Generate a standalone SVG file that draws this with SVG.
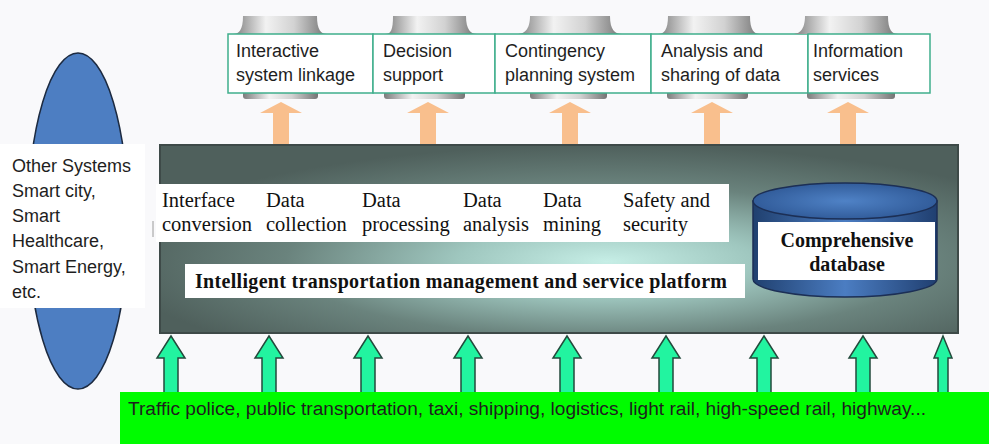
<svg xmlns="http://www.w3.org/2000/svg" width="989" height="444" viewBox="0 0 989 444">
  <defs>
    <linearGradient id="spool" x1="0" y1="0" x2="1" y2="0">
      <stop offset="0" stop-color="#7c7c7c"/>
      <stop offset="0.35" stop-color="#f2f2f2"/>
      <stop offset="0.65" stop-color="#d2d2d2"/>
      <stop offset="1" stop-color="#747474"/>
    </linearGradient>
    <radialGradient id="platform" cx="0.56" cy="0.62" r="0.62">
      <stop offset="0" stop-color="#c6eee6"/>
      <stop offset="0.3" stop-color="#9fc7bf"/>
      <stop offset="0.65" stop-color="#6a837d"/>
      <stop offset="1" stop-color="#4f605c"/>
    </radialGradient>
    <linearGradient id="drum" x1="0" y1="0" x2="1" y2="0">
      <stop offset="0" stop-color="#20406f"/>
      <stop offset="0.5" stop-color="#4b7dc2"/>
      <stop offset="1" stop-color="#203f70"/>
    </linearGradient>
    <radialGradient id="drumTop" cx="0.5" cy="0.5" r="0.6">
      <stop offset="0" stop-color="#4f82c6"/>
      <stop offset="1" stop-color="#2c5592"/>
    </radialGradient>
    <style>
      .box { fill: #ffffff; stroke: #3fae8c; stroke-width: 1.5; }
      .spool { fill: url(#spool); }
      .label { font-family: "Liberation Sans", Arial, sans-serif; font-size: 18px; fill: #1e1e1e; }
      .serif { font-family: "Liberation Serif", "Times New Roman", serif; font-size: 20.5px; fill: #111111; }
      .bold { font-family: "Liberation Serif", "Times New Roman", serif; font-size: 20px; font-weight: bold; fill: #111111; }
      .up-out { fill: #f9bf8d; }
      .up-in { fill: #22f4a0; stroke: #234a3c; stroke-width: 1.5; stroke-linejoin: miter; }
    </style>
  </defs>

  <rect x="0" y="0" width="989" height="444" fill="#f9f9fb"/>

  <!-- other systems -->
  <g id="other-systems">
    <ellipse cx="78" cy="221" rx="50" ry="168" fill="#4d7ec2" stroke="#1c2a40" stroke-width="1.5"/>
    <rect x="0" y="144" width="145" height="164" fill="#ffffff"/>
    <text class="label">
      <tspan x="12" y="172">Other Systems</tspan>
      <tspan x="12" y="197">Smart city,</tspan>
      <tspan x="12" y="222">Smart</tspan>
      <tspan x="12" y="247">Healthcare,</tspan>
      <tspan x="12" y="273">Smart Energy,</tspan>
      <tspan x="12" y="298">etc.</tspan>
    </text>
  </g>

  <!-- service outputs -->
  <g id="svc-linkage">
    <path class="spool" d="M243,16 L317,16 C317,30 321,34 327,34 L233,34 C239,34 243,30 243,16 Z"/>
    <path class="spool" d="M243,92 L318,92 L318,96 Q318,99 315,99 L246,99 Q243,99 243,96 Z"/>
    <rect class="box" x="228" y="34" width="145" height="59"/>
    <text class="label"><tspan x="236" y="57">Interactive</tspan><tspan x="236" y="81">system linkage</tspan></text>
  </g>
  <g id="svc-decision">
    <path class="spool" d="M393,16 L466,16 C466,30 471,34 477,34 L385,34 C391,34 393,30 393,16 Z"/>
    <path class="spool" d="M384,92 L465,92 L465,96 Q465,99 462,99 L387,99 Q384,99 384,96 Z"/>
    <rect class="box" x="373" y="34" width="122" height="59"/>
    <text class="label"><tspan x="383" y="57">Decision</tspan><tspan x="383" y="81">support</tspan></text>
  </g>
  <g id="svc-contingency">
    <path class="spool" d="M530,16 L610,16 C610,30 615,34 622,34 L517,34 C524,34 530,30 530,16 Z"/>
    <path class="spool" d="M530,92 L607,92 L607,96 Q607,99 604,99 L533,99 Q530,99 530,96 Z"/>
    <rect class="box" x="495" y="34" width="156" height="59"/>
    <text class="label"><tspan x="505" y="57">Contingency</tspan><tspan x="505" y="81">planning system</tspan></text>
  </g>
  <g id="svc-analysis">
    <path class="spool" d="M668,16 L750,16 C750,30 754,34 760,34 L658,34 C664,34 668,30 668,16 Z"/>
    <path class="spool" d="M667,92 L748,92 L748,96 Q748,99 745,99 L670,99 Q667,99 667,96 Z"/>
    <rect class="box" x="651" y="34" width="157" height="59"/>
    <text class="label"><tspan x="661" y="57">Analysis and</tspan><tspan x="661" y="81">sharing of data</tspan></text>
  </g>
  <g id="svc-information">
    <path class="spool" d="M805,16 L888,16 C888,30 892,34 898,34 L793,34 C799,34 805,30 805,16 Z"/>
    <path class="spool" d="M807,92 L895,92 L895,96 Q895,99 892,99 L810,99 Q807,99 807,96 Z"/>
    <rect class="box" x="808" y="34" width="122" height="59"/>
    <text class="label"><tspan x="813" y="57">Information</tspan><tspan x="813" y="81">services</tspan></text>
  </g>

  <!-- connectors -->
  <g id="connectors">
    <path class="up-out" d="M281,102 L302,113 L289,113 L289,146 L273,146 L273,113 L260,113 Z"/>
    <path class="up-out" d="M428,102 L449,113 L436,113 L436,146 L420,146 L420,113 L407,113 Z"/>
    <path class="up-out" d="M570,102 L591,113 L578,113 L578,146 L562,146 L562,113 L549,113 Z"/>
    <path class="up-out" d="M712,102 L733,113 L720,113 L720,146 L704,146 L704,113 L691,113 Z"/>
    <path class="up-out" d="M848,102 L869,113 L856,113 L856,146 L840,146 L840,113 L827,113 Z"/>

    <path class="up-in" d="M171,336 L185,358 L178,358 L178,394 L164,394 L164,358 L157,358 Z"/>
    <path class="up-in" d="M269,336 L283,358 L276,358 L276,394 L262,394 L262,358 L255,358 Z"/>
    <path class="up-in" d="M368,336 L382,358 L375,358 L375,394 L361,394 L361,358 L354,358 Z"/>
    <path class="up-in" d="M468,336 L482,358 L475,358 L475,394 L461,394 L461,358 L454,358 Z"/>
    <path class="up-in" d="M567,336 L581,358 L574,358 L574,394 L560,394 L560,358 L553,358 Z"/>
    <path class="up-in" d="M666,336 L680,358 L673,358 L673,394 L659,394 L659,358 L652,358 Z"/>
    <path class="up-in" d="M764,336 L778,358 L771,358 L771,394 L757,394 L757,358 L750,358 Z"/>
    <path class="up-in" d="M863,336 L877,358 L870,358 L870,394 L856,394 L856,358 L849,358 Z"/>
    <path class="up-in" d="M943,336 L952,358 L948,358 L948,394 L938,394 L938,358 L934,358 Z"/>
  </g>

  <!-- platform -->
  <g id="platform">
    <rect x="160" y="145" width="798" height="188" fill="url(#platform)" stroke="#3e4a48" stroke-width="2"/>
    <rect x="156" y="184" width="573" height="58" fill="#ffffff"/>
    <line x1="153" y1="221" x2="153" y2="237" stroke="#9a9a9a" stroke-width="1"/>
    <text class="serif"><tspan x="162" y="207">Interface</tspan><tspan x="162" y="231">conversion</tspan></text>
    <text class="serif"><tspan x="266" y="207">Data</tspan><tspan x="266" y="231">collection</tspan></text>
    <text class="serif"><tspan x="362" y="207">Data</tspan><tspan x="362" y="231">processing</tspan></text>
    <text class="serif"><tspan x="463" y="207">Data</tspan><tspan x="463" y="231">analysis</tspan></text>
    <text class="serif"><tspan x="543" y="207">Data</tspan><tspan x="543" y="231">mining</tspan></text>
    <text class="serif"><tspan x="623" y="207">Safety and</tspan><tspan x="623" y="231">security</tspan></text>
    <rect x="185" y="264" width="560" height="34" fill="#ffffff"/>
    <text class="bold" x="195" y="288" textLength="532" lengthAdjust="spacing">Intelligent transportation management and service platform</text>
  </g>

  <!-- database -->
  <g id="database">
    <path d="M753,201 L753,279 A92,18 0 0 0 937,279 L937,201 Z" fill="url(#drum)" stroke="#1c2f55" stroke-width="1.5"/>
    <ellipse cx="845" cy="201" rx="92" ry="18" fill="url(#drumTop)" stroke="#1c2f55" stroke-width="1.5"/>
    <rect x="758" y="222" width="177" height="58" fill="#ffffff"/>
    <text class="bold" text-anchor="middle"><tspan x="847" y="247">Comprehensive</tspan><tspan x="847" y="271">database</tspan></text>
  </g>

  <!-- transport sources -->
  <g id="sources">
    <rect x="120" y="392" width="869" height="52" fill="#00fc00"/>
    <text class="label" x="128" y="415" fill="#163016" textLength="798" lengthAdjust="spacingAndGlyphs">Traffic police, public transportation, taxi, shipping, logistics, light rail, high-speed rail, highway...</text>
  </g>
</svg>
